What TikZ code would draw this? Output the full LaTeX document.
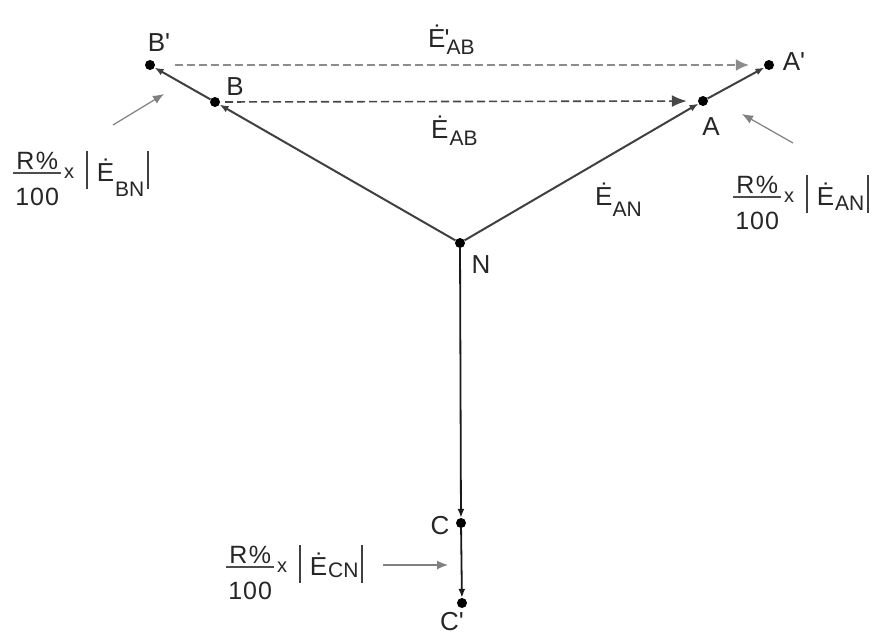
\documentclass[tikz,border=0pt]{standalone}
\usepackage{fontspec}
\setmainfont{Liberation Sans}[Ligatures=TeXOff]
\usetikzlibrary{arrows.meta}
% subscript: #1 drop, #2 text
\newcommand\subx[2]{\raisebox{-#1}{\fontsize{21}{21}\selectfont #2}}
\newcommand\vbar{\textcolor{black!75}{\rule[-8pt]{1.6pt}{38pt}}}
\newcommand\fracbox{{\fontsize{25}{25}\selectfont
  \makebox[0pt][l]{\raisebox{12pt}{\makebox[48pt]{R\kern1.5pt\%}}}%
  \makebox[0pt][l]{\raisebox{7.3pt}{\textcolor{black!70}{\rule{48pt}{1.4pt}}}}%
  \raisebox{-24pt}{\makebox[48pt]{1\kern1pt0\kern1pt0}}}}
\newcommand\rfrac[2]{\fracbox\kern3pt\raisebox{3pt}{\fontsize{20}{20}\selectfont x}\kern12pt\vbar\kern9pt\.E\kern1pt\subx{#2}{#1}\kern3pt\vbar}
\tikzset{
  dot/.style={circle,fill=black,inner sep=0pt,minimum size=10pt},
  vec/.style={draw=black!75,line width=2pt,-{Latex[length=9pt,width=7pt]}},
  dashA/.style={draw=black!72,line width=1.6pt,dash pattern=on 8pt off 4pt,-{Latex[length=15pt,width=12pt]}},
  dashB/.style={draw=black!45,line width=1.6pt,dash pattern=on 8pt off 4pt,-{Latex[length=13pt,width=12pt]}},
  garrow/.style={draw=black!50,line width=1.2pt,-{Latex[length=11pt,width=9pt]}},
  lbl/.style={inner sep=0pt,text=black!85,font=\fontsize{26}{26}\selectfont},
  frm/.style={inner sep=0pt,text=black!85,anchor=base west,font=\fontsize{26}{26}\selectfont}
}
\begin{document}
\begin{tikzpicture}[x=1pt,y=-1pt]
\useasboundingbox[fill=white] (0,0) rectangle (879,635);
% points
\node[dot] (N) at (460,243) {};
\node[dot] (A) at (703,101) {};
\node[dot] (A') at (769,65) {};
\node[dot] (B) at (215,102) {};
\node[dot] (B') at (150,65) {};
\node[dot] (C) at (461,523) {};
\node[dot] (C') at (462,603) {};
% vectors
\draw[vec] (N) -- (A);
\draw[vec] (A) -- (A');
\draw[vec] (N) -- (B);
\draw[vec] (B) -- (B');
\draw[vec,draw=black!90,line width=1.8pt] (N) -- (C);
\draw[vec,draw=black!90,line width=1.8pt] (C) -- (C');
% dashed line-to-line voltages
\draw[dashA,shorten >=11pt,shorten <=5pt] (B) -- (A);
\draw[dashB,shorten >=15pt,shorten <=20pt] (B') -- (A');
% labels
\node[lbl] (lB') at (159,43) {B'};
\node[lbl] (lB) at (235,87) {B};
\node[lbl] (lA') at (794,62) {A'};
\node[lbl] (lA) at (711,127) {A};
\node[lbl] (lN) at (481,265) {N};
\node[lbl] (lC) at (440,526) {C};
\node[lbl] (lC') at (452,622) {C'};
\node[lbl,anchor=base west] (lEpAB) at (428,47) {\.E\rlap{\kern-1pt'}\kern1pt\subx{7pt}{AB}};
\node[lbl,anchor=base west] (lEAB) at (431,138) {\.E\kern1pt\subx{7pt}{AB}};
\node[lbl,anchor=base west] (lEAN) at (595,205) {\.E\subx{11pt}{AN}};
% formulas
\node[frm] (fB) at (13,181) {\rfrac{BN}{15pt}};
\node[frm] (fA) at (733,205) {\rfrac{AN}{5pt}};
\node[frm] (fC) at (226,575) {\rfrac{CN}{2pt}};
\coordinate (gB1) at (113,125);
\coordinate (gB2) at (164,94);
\coordinate (gA1) at (793,143);
\coordinate (gA2) at (742,114);
\coordinate (gC1) at (383,565);
\coordinate (gC2) at (448,565);
\draw[garrow] (gB1) -- (gB2);
\draw[garrow] (gA1) -- (gA2);
\draw[garrow] (gC1) -- (gC2);
\end{tikzpicture}
\end{document}
